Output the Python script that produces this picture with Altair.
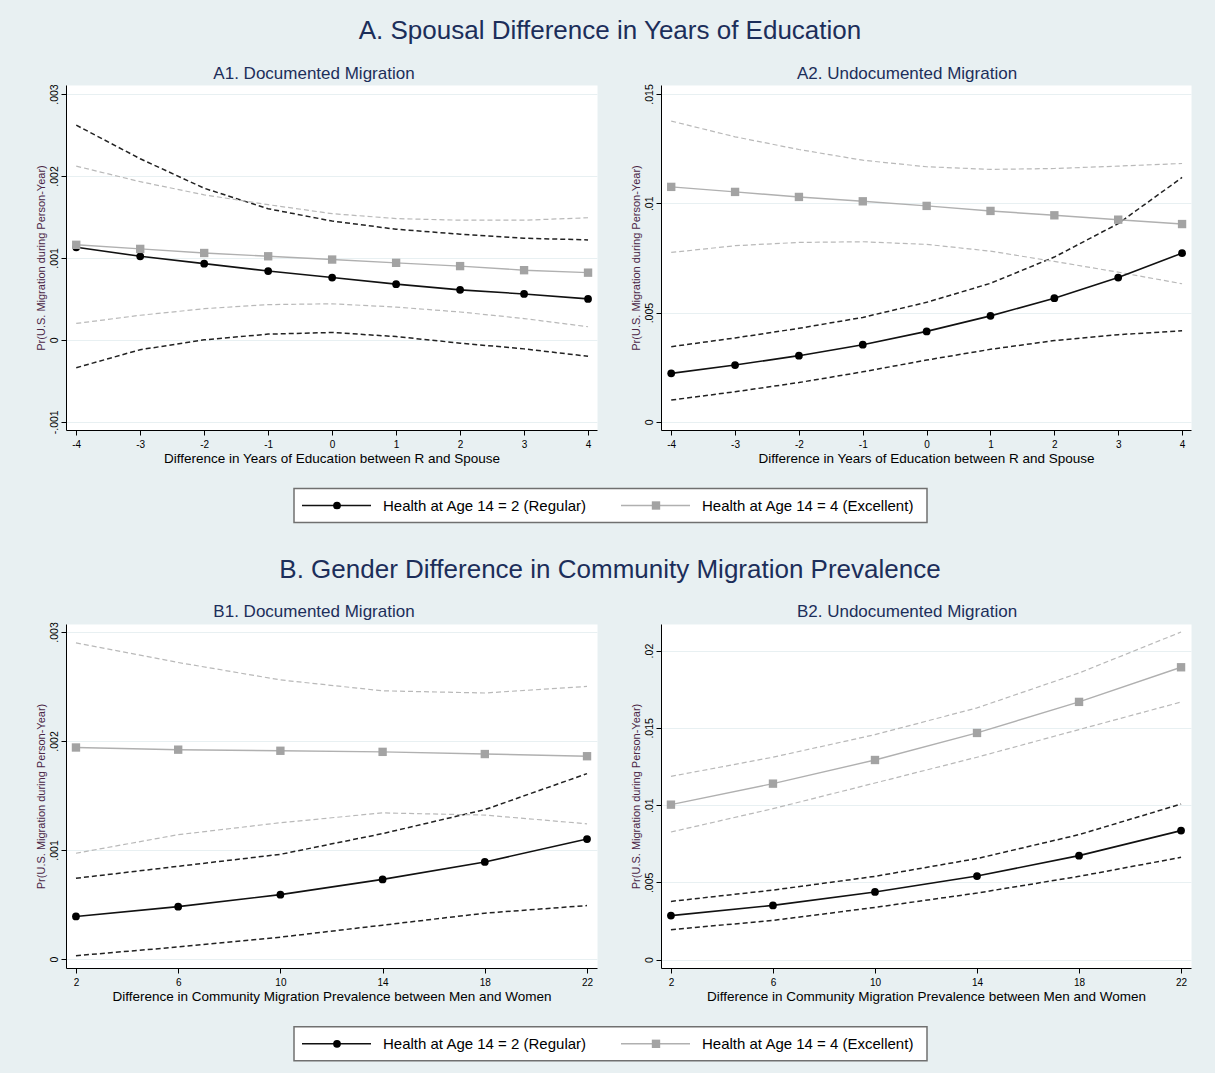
import altair as alt
import pandas as pd

FONT = "Liberation Sans"
BG = "#E8F0F2"
NAVY = "#1C2E5A"

# ---- text -----------------------------------------------------------------
SECTION_TITLES = [
    "A. Spousal Difference in Years of Education",
    "B. Gender Difference in Community Migration Prevalence",
]
PANEL_TITLES = [
    "A1. Documented Migration",
    "A2. Undocumented Migration",
    "B1. Documented Migration",
    "B2. Undocumented Migration",
]
X_TITLES = [
    "Difference in Years of Education between R and Spouse",
    "Difference in Community Migration Prevalence between Men and Women",
]
Y_TITLE = "Pr(U.S. Migration during Person-Year)"

SERIES = ["Regular", "Excellent"]
SERIES_LABELS = ["Health at Age 14 = 2 (Regular)", "Health at Age 14 = 4 (Excellent)"]

# ---- x values -------------------------------------------------------------
EDU_DIFF = [-4, -3, -2, -1, 0, 1, 2, 3, 4]
PREV_DIFF = [2, 6, 10, 14, 18, 22]

# ---- A1: documented, education difference --------------------------------
A1_REG = [.00113, .00102, .00093, .00084, .00076, .00068, .00061, .00056, .00050]
A1_REG_LO = [-.00034, -.00012, .00000, .00007, .00009, .00004, -.00004, -.00011, -.00020]
A1_REG_HI = [.00262, .00221, .00185, .00160, .00145, .00135, .00129, .00124, .00122]
A1_EXC = [.00116, .00111, .00106, .00102, .00098, .00094, .00090, .00085, .00082]
A1_EXC_LO = [.00020, .00030, .00038, .00043, .00044, .00040, .00034, .00026, .00016]
A1_EXC_HI = [.00212, .00193, .00177, .00165, .00154, .00148, .00146, .00146, .00149]

# ---- A2: undocumented, education difference ------------------------------
A2_REG = [.00222, .00260, .00303, .00353, .00414, .00485, .00566, .00660, .00772]
A2_REG_LO = [.00100, .00138, .00180, .00229, .00283, .00332, .00372, .00399, .00417]
A2_REG_HI = [.00344, .00384, .00428, .00478, .00547, .00634, .00754, .00907, .01118]
A2_EXC = [.01075, .01052, .01029, .01009, .00988, .00965, .00945, .00925, .00905]
A2_EXC_LO = [.00775, .00806, .00821, .00824, .00812, .00781, .00734, .00685, .00632]
A2_EXC_HI = [.01376, .01304, .01246, .01197, .01167, .01155, .01159, .01170, .01182]

# ---- B1: documented, community prevalence difference ---------------------
B1_REG = [.00039, .00048, .00059, .00073, .00089, .00110]
B1_REG_LO = [.00003, .00011, .00020, .00031, .00042, .00049]
B1_REG_HI = [.00074, .00085, .00096, .00115, .00137, .00170]
B1_EXC = [.00194, .00192, .00191, .00190, .00188, .00186]
B1_EXC_LO = [.00097, .00114, .00125, .00134, .00132, .00124]
B1_EXC_HI = [.00290, .00272, .00256, .00246, .00244, .00250]

# ---- B2: undocumented, community prevalence difference -------------------
B2_REG = [.00285, .00351, .00438, .00541, .00673, .00835]
B2_REG_LO = [.00194, .00254, .00338, .00431, .00539, .00662]
B2_REG_HI = [.00377, .00450, .00539, .00654, .00809, .01007]
B2_EXC = [.01003, .01139, .01292, .01467, .01668, .01892]
B2_EXC_LO = [.00826, .00977, .01143, .01310, .01489, .01667]
B2_EXC_HI = [.01186, .01310, .01456, .01629, .01855, .02120]

PANEL_W1, PANEL_W2 = 531, 530
PANEL_GAP = 64
ORIGIN_X = 67            # left edge of the first panel on the page
BAND_W = PANEL_W1 + PANEL_GAP + PANEL_W2
IS_REG = "datum.series == 'Regular'"
Y_LABELS = "datum.value == 0 ? '0' : replace('' + datum.value, '0.', '.')"
X_LABELS = "'' + datum.value"


def long_table(xs, reg, reg_lo, reg_hi, exc, exc_lo, exc_hi):
    rows = []
    for series, parts in (("Regular", (reg, reg_lo, reg_hi)),
                          ("Excellent", (exc, exc_lo, exc_hi))):
        for part, vals in zip(("est", "lo", "hi"), parts):
            for x, y in zip(xs, vals):
                rows.append({"x": x, "y": y, "series": series, "part": part,
                             "line": series + "-" + part})
    return pd.DataFrame(rows)


def panel(df, x_title, x_domain, x_ticks, y_domain, y_ticks, width, height):
    x_enc = alt.X(
        "x:Q",
        scale=alt.Scale(domain=x_domain, nice=False, zero=False),
        axis=alt.Axis(values=x_ticks, title=x_title, grid=False, labelExpr=X_LABELS,
                      domainColor="#000", tickColor="#000", tickSize=5,
                      labelFontSize=10, labelColor="#000", labelPadding=4,
                      titleFontSize=13.5, titleFontWeight="normal",
                      titleColor="#000", titlePadding=2),
    )
    y_enc = alt.Y(
        "y:Q",
        scale=alt.Scale(domain=y_domain, nice=False, zero=False),
        axis=alt.Axis(values=y_ticks, title=Y_TITLE, labelExpr=Y_LABELS,
                      grid=True, gridColor=BG, gridWidth=1,
                      domainColor="#000", tickColor="#000", tickSize=5,
                      labelFontSize=10.5, labelColor="#000", labelAngle=270,
                      labelPadding=2, titleFontSize=11, titleFontWeight="normal",
                      titleColor="#4A2545", titlePadding=3),
    )
    base = alt.Chart(df)
    ci = base.transform_filter("datum.part != 'est'").mark_line(
        strokeDash=[5, 3]
    ).encode(
        x=x_enc, y=y_enc, detail="line:N",
        color=alt.condition(IS_REG, alt.value("#222222"), alt.value("#b9b9b9")),
        strokeWidth=alt.condition(IS_REG, alt.value(1.5), alt.value(1.2)),
    )
    est = base.transform_filter("datum.part == 'est'")
    line = est.mark_line().encode(
        x=x_enc, y=y_enc, detail="series:N",
        color=alt.condition(IS_REG, alt.value("#111111"), alt.value("#b0b0b0")),
        strokeWidth=alt.condition(IS_REG, alt.value(1.6), alt.value(1.4)),
    )
    pts = est.mark_point(filled=True, opacity=1).encode(
        x=x_enc, y=y_enc,
        shape=alt.Shape("series:N", scale=alt.Scale(domain=SERIES, range=["circle", "square"]),
                        legend=None),
        color=alt.condition(IS_REG, alt.value("#000000"), alt.value("#a3a3a3")),
        size=alt.condition(IS_REG, alt.value(60), alt.value(70)),
    )
    return alt.layer(ci, line, pts).properties(
        width=width, height=height,
        view=alt.ViewBackground(fill="white", stroke="transparent"),
    )


def text_layer(text, x, y, size, color=NAVY, align="center"):
    return alt.Chart(pd.DataFrame({"t": [text]})).mark_text(
        fontSize=size, color=color, font=FONT, align=align, baseline="middle"
    ).encode(x=alt.value(x - ORIGIN_X), y=alt.value(y), text="t:N")


def band(height, title=None, title_y=0, subtitles=None, sub_y=0, legend_top=None):
    """Strip between panel rows: section heading, panel headings, series key."""
    layers = []
    if legend_top is not None:
        key = pd.DataFrame({"label": SERIES_LABELS, "series": SERIES})
        mid = legend_top + 17
        left = 295 - ORIGIN_X
        layers.append(
            alt.Chart(key.head(1)).mark_rect(
                fill="white", stroke="#707070", strokeWidth=1.5
            ).encode(x=alt.value(left), x2=alt.value(left + 633),
                     y=alt.value(legend_top), y2=alt.value(legend_top + 34))
        )
        specs = [("Regular", left + 8, "#111111", 1.6, "circle", "#000000", 60),
                 ("Excellent", left + 327, "#b0b0b0", 1.4, "square", "#a3a3a3", 70)]
        for s, x0, lc, lw, shp, pc, sz in specs:
            one = alt.Chart(key).transform_filter(alt.datum.series == s)
            layers.append(one.mark_rule(color=lc, strokeWidth=lw).encode(
                x=alt.value(x0), x2=alt.value(x0 + 69), y=alt.value(mid)))
            layers.append(one.mark_point(shape=shp, filled=True, opacity=1,
                                         color=pc, size=sz).encode(
                x=alt.value(x0 + 35), y=alt.value(mid)))
            layers.append(one.mark_text(fontSize=15, font=FONT, color="#000",
                                        align="left", baseline="middle").encode(
                x=alt.value(x0 + 81), y=alt.value(mid), text="label:N"))
    if title is not None:
        layers.append(text_layer(title, 611, title_y, 26))
    if subtitles is not None:
        layers.append(text_layer(subtitles[0], 315, sub_y, 17))
        layers.append(text_layer(subtitles[1], 908, sub_y, 17))
    return alt.layer(*layers).properties(
        width=BAND_W, height=height,
        view=alt.ViewBackground(fill="transparent", stroke="transparent"),
    )


a_edu = dict(x_domain=[-4.16, 4.14], x_ticks=EDU_DIFF)
b_prev = dict(x_domain=[1.61, 22.39], x_ticks=PREV_DIFF)

a1 = panel(long_table(EDU_DIFF, A1_REG, A1_REG_LO, A1_REG_HI, A1_EXC, A1_EXC_LO, A1_EXC_HI),
           X_TITLES[0], y_domain=[-0.0011, 0.00311],
           y_ticks=[-0.001, 0, 0.001, 0.002, 0.003], width=PANEL_W1, height=345, **a_edu)
a2 = panel(long_table(EDU_DIFF, A2_REG, A2_REG_LO, A2_REG_HI, A2_EXC, A2_EXC_LO, A2_EXC_HI),
           X_TITLES[0], y_domain=[-0.00037, 0.01541],
           y_ticks=[0, 0.005, 0.01, 0.015], width=PANEL_W2, height=345, **a_edu)
b1 = panel(long_table(PREV_DIFF, B1_REG, B1_REG_LO, B1_REG_HI, B1_EXC, B1_EXC_LO, B1_EXC_HI),
           X_TITLES[1], y_domain=[-0.000083, 0.003073],
           y_ticks=[0, 0.001, 0.002, 0.003], width=PANEL_W1, height=344, **b_prev)
b2 = panel(long_table(PREV_DIFF, B2_REG, B2_REG_LO, B2_REG_HI, B2_EXC, B2_EXC_LO, B2_EXC_HI),
           X_TITLES[1], y_domain=[-0.00054, 0.02172],
           y_ticks=[0, 0.005, 0.01, 0.015, 0.02], width=PANEL_W2, height=344, **b_prev)

row_a = alt.hconcat(a1, a2, spacing=PANEL_GAP, bounds="flush")
row_b = alt.hconcat(b1, b2, spacing=PANEL_GAP, bounds="flush")

# Band heights leave room for the axis labels that hang above/below each row.
chart = alt.vconcat(
    band(78, title=SECTION_TITLES[0], title_y=30,
         subtitles=PANEL_TITLES[0:2], sub_y=73),
    row_a,
    band(154, title=SECTION_TITLES[1], title_y=103.5,
         subtitles=PANEL_TITLES[2:4], sub_y=145.5, legend_top=22.5),
    row_b,
    band(68, legend_top=22.8),
    spacing=0,
).properties(
    padding={"left": 34, "top": 0, "right": 23, "bottom": 0},
).configure(
    background=BG, font=FONT,
).configure_view(stroke="transparent")

chart.save("out.html", embed_options={"renderer": "svg", "actions": False})
